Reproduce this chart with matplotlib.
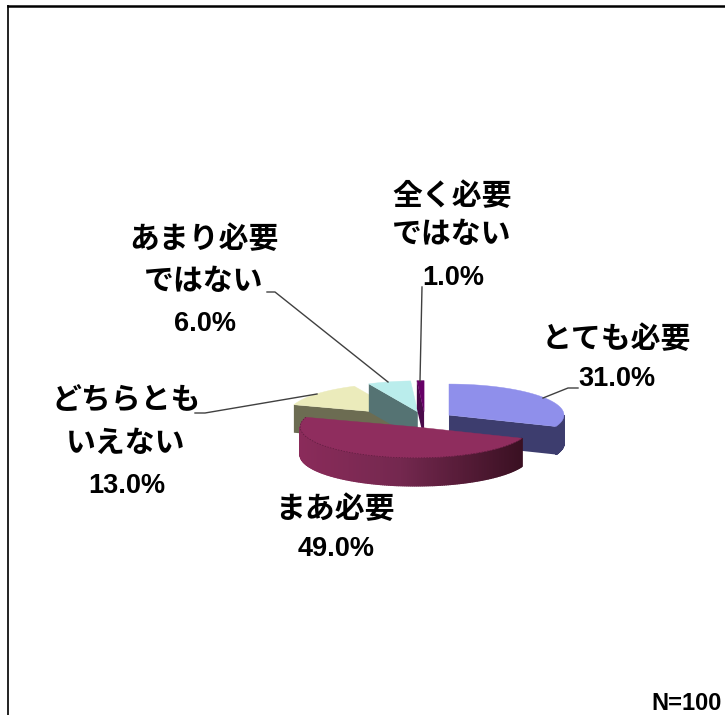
import numpy as np
import matplotlib
matplotlib.use('Agg')
import matplotlib.pyplot as plt
from matplotlib.colors import to_rgb
from matplotlib.patches import Polygon

plt.rcParams['font.family'] = ['Noto Sans CJK JP', 'DejaVu Sans']

categories = ['とても必要', 'まあ必要', 'どちらとも\nいえない', 'あまり必要\nではない', '全く必要\nではない']
shares = [31.0, 49.0, 13.0, 6.0, 1.0]
top_colors = ['#8F8FEB', '#8F2D5E', '#EBEBBB', '#BAEDEC', '#660066']
side_colors = ['#3D3D6E', '#8A2B5A', '#6C6C52', '#557373', '#4A0A4A']

# pie geometry, in pixels
cx, cy = 425, 419.5
radius = 115
squash = 0.27
explode = 29
depth = 28


def rim(theta, ox, oy, drop=0):
    return np.column_stack([ox + radius * np.sin(theta),
                            oy - squash * radius * np.cos(theta) + drop])


def wall_color(i, x):
    if i == 1:
        c0, c1, c2 = [np.array(to_rgb(c)) for c in ('#8A2B5A', '#74284F', '#3A1022')]
        t = (x - 300) / 222
        if t < 0.45:
            return c0 + (c1 - c0) * t / 0.45
        return c1 + (c2 - c1) * (t - 0.45) / 0.55
    return side_colors[i]


fig = plt.figure(figsize=(7.25, 7.15), dpi=100)
ax = fig.add_axes([0, 0, 1, 1])
ax.set_xlim(0, 725)
ax.set_ylim(715, 0)
ax.axis('off')

# outer frame, open on the right and at the bottom
ax.plot([8, 8], [715, 5.5], color='#222222', lw=1.4, solid_joinstyle='miter')
ax.plot([8, 725], [5.5, 5.5], color='black', lw=1.8)

# slice angles run clockwise from twelve o'clock
ends = np.cumsum(shares) / 100 * 2 * np.pi
starts = np.r_[0, ends[:-1]]

# back slices first so the front ones cover them
for order, i in enumerate([2, 3, 4, 0, 1]):
    z = 2 + order * 0.01
    a0, a1 = starts[i], ends[i]
    mid = (a0 + a1) / 2
    ox = cx + explode * np.sin(mid)
    oy = cy - squash * explode * np.cos(mid)
    theta = np.linspace(a0, a1, 200)
    edge = rim(theta, ox, oy)

    # flat cut faces that turn toward the viewer
    for a, normal in [(a0, a0 - np.pi / 2), (a1, a1 + np.pi / 2)]:
        if np.cos(normal) < -0.01:
            p = rim(np.array([a]), ox, oy)[0]
            ax.add_patch(Polygon([(ox, oy), p, p + [0, depth], (ox, oy + depth)],
                                 fc=side_colors[i], ec='none', zorder=z))

    # curved outer wall, split into strips for the shading
    lo, hi = max(a0, np.pi / 2), min(a1, 3 * np.pi / 2)
    if lo < hi:
        wall = np.linspace(lo, hi, 160)
        pts = rim(wall, ox, oy)
        for j in range(len(wall) - 1):
            quad = [pts[j], pts[j + 1], pts[j + 1] + [0, depth], pts[j] + [0, depth]]
            fc = wall_color(i, pts[j, 0])
            ax.add_patch(Polygon(quad, fc=fc, ec=fc, lw=1.0, zorder=z))

    ax.add_patch(Polygon(np.vstack([[ox, oy], edge]), fc=top_colors[i], ec=top_colors[i],
                         lw=0.3, zorder=z))
    if i == 1:
        ax.plot(edge[:, 0], edge[:, 1], color='#5A1C3C', lw=0.5, ls=(0, (2, 2)), zorder=z)

# leader lines
leaders = [([578, 568, 543], [388, 388, 398]),
           ([422, 420], [287, 381]),
           ([267, 275, 388], [292, 292, 382]),
           ([195, 205, 317], [413, 413, 394])]
for xs, ys in leaders:
    ax.plot(xs, ys, color='#404040', lw=1.0, zorder=3)

# label lines: x centre, then y centre of each line
label_pos = [(616, [339, 379]),
             (335, [509, 549]),
             (126, [401, 443, 486]),
             (204, [239, 281, 324]),
             (452, [196, 234, 278])]
for name, value, (x, ys) in zip(categories, shares, label_pos):
    for line, y in zip(name.split('\n'), ys):
        ax.text(x, y, line, ha='center', va='center', fontsize=21.5,
                fontweight='bold', color='black', zorder=4)
    ax.text(x + 1, ys[-1], f'{value:.1f}%', ha='center', va='center', fontsize=19.5,
            fontweight='bold', color='black', zorder=4,
            family=['Liberation Sans', 'DejaVu Sans'])

ax.text(722, 704, 'N=100', ha='right', va='center', fontsize=17, fontweight='bold',
        family=['Liberation Sans', 'DejaVu Sans'])

fig.savefig('out.png', dpi=100)
